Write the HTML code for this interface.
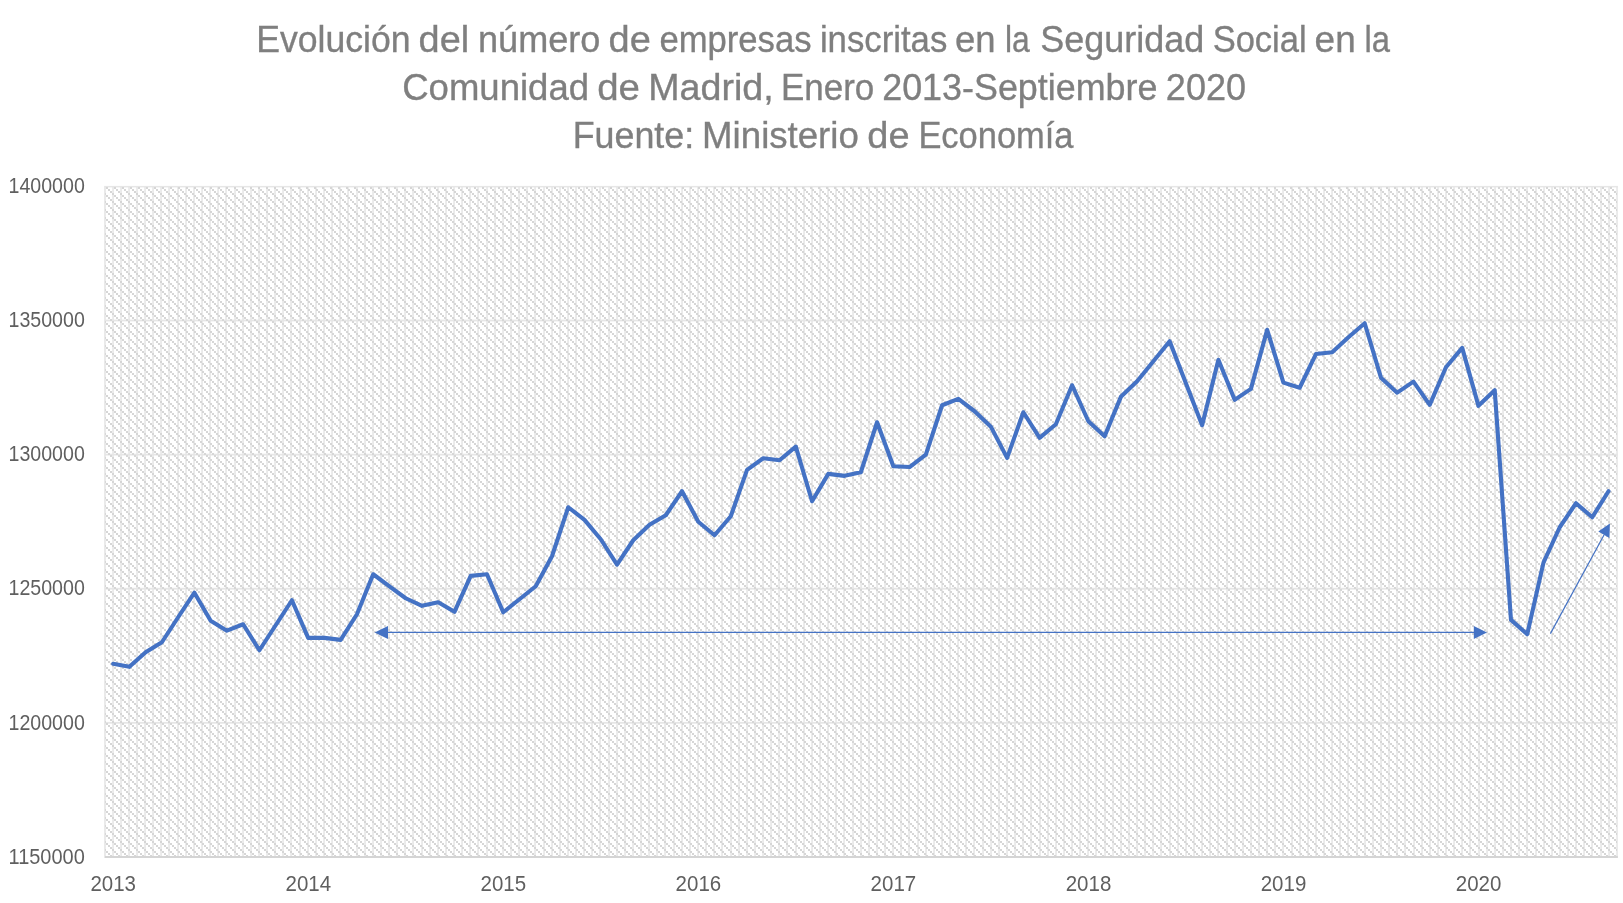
<!DOCTYPE html>
<html lang="es">
<head>
<meta charset="utf-8">
<title>Evolución del número de empresas inscritas en la Seguridad Social</title>
<style>
  html, body { margin: 0; padding: 0; background: #ffffff; }
  body { width: 1623px; height: 903px; overflow: hidden; font-family: "Liberation Sans", sans-serif; }
  svg { display: block; }
  .title text { font-family: "Liberation Sans", sans-serif; font-size: 36px; fill: #7f7f7f; stroke: #7f7f7f; stroke-width: 0.35px; }
  .axis text { font-family: "Liberation Sans", sans-serif; font-size: 22px; fill: #5f5f5f; }
</style>
</head>
<body>
<svg width="1623" height="903" viewBox="0 0 1623 903">
  <defs>
    <filter id="gray" x="-5%" y="-20%" width="110%" height="140%"><feOffset dx="0" dy="0"/></filter>
    <pattern id="dots" x="104" y="187" width="8" height="8" patternUnits="userSpaceOnUse" shape-rendering="crispEdges">
      <rect x="2" y="0" width="2" height="2" fill="#d6d6d6"/>
      <rect x="4" y="2" width="2" height="2" fill="#d6d6d6"/>
      <rect x="6" y="4" width="2" height="2" fill="#d6d6d6"/>
      <rect x="0" y="6" width="2" height="2" fill="#d6d6d6"/>
    </pattern>
  </defs>
  <rect x="0" y="0" width="1623" height="903" fill="#ffffff"/>

  <g class="title" filter="url(#gray)">
    <g><text x="256.15" y="52" textLength="154.37" lengthAdjust="spacingAndGlyphs">Evolución</text> <text x="418.56" y="52" textLength="50.6" lengthAdjust="spacingAndGlyphs">del</text> <text x="478.07" y="52" textLength="122.28" lengthAdjust="spacingAndGlyphs">número</text> <text x="608.57" y="52" textLength="42.25" lengthAdjust="spacingAndGlyphs">de</text> <text x="659.47" y="52" textLength="152.0" lengthAdjust="spacingAndGlyphs">empresas</text> <text x="819.88" y="52" textLength="127.4" lengthAdjust="spacingAndGlyphs">inscritas</text> <text x="955.01" y="52" textLength="40.56" lengthAdjust="spacingAndGlyphs">en</text> <text x="1004.92" y="52" textLength="24.78" lengthAdjust="spacingAndGlyphs">la</text> <text x="1040.31" y="52" textLength="163.9" lengthAdjust="spacingAndGlyphs">Seguridad</text> <text x="1212.63" y="52" textLength="94.02" lengthAdjust="spacingAndGlyphs">Social</text> <text x="1314.64" y="52" textLength="41.06" lengthAdjust="spacingAndGlyphs">en</text> <text x="1364.4" y="52" textLength="25.5" lengthAdjust="spacingAndGlyphs">la</text></g>
    <g><text x="402.21" y="100" textLength="186.89" lengthAdjust="spacingAndGlyphs">Comunidad</text> <text x="597.18" y="100" textLength="42.75" lengthAdjust="spacingAndGlyphs">de</text> <text x="648.24" y="100" textLength="125.39" lengthAdjust="spacingAndGlyphs">Madrid,</text> <text x="780.91" y="100" textLength="93.36" lengthAdjust="spacingAndGlyphs">Enero</text> <text x="882.23" y="100" textLength="275.19" lengthAdjust="spacingAndGlyphs">2013-Septiembre</text> <text x="1165.87" y="100" textLength="80.19" lengthAdjust="spacingAndGlyphs">2020</text></g>
    <g><text x="572.69" y="148" textLength="121.44" lengthAdjust="spacingAndGlyphs">Fuente:</text> <text x="702.11" y="148" textLength="156.73" lengthAdjust="spacingAndGlyphs">Ministerio</text> <text x="867.38" y="148" textLength="42.25" lengthAdjust="spacingAndGlyphs">de</text> <text x="918.4" y="148" textLength="155.1" lengthAdjust="spacingAndGlyphs">Economía</text></g>
  </g>

  <path d="M105.05 186v670m8 -670v670m8 -670v670m8 -670v670m8 -670v670m8 -670v670m8 -670v670m8 -670v670m8 -670v670m9 -670v670m8 -670v670m8 -670v670m8 -670v670m8 -670v670m8 -670v670m8 -670v670m9 -670v670m8 -670v670m8 -670v670m8 -670v670m8 -670v670m8 -670v670m8 -670v670m8 -670v670m9 -670v670m8 -670v670m8 -670v670m8 -670v670m8 -670v670m8 -670v670m8 -670v670m9 -670v670m8 -670v670m8 -670v670m8 -670v670m8 -670v670m8 -670v670m8 -670v670m8 -670v670m9 -670v670m8 -670v670m8 -670v670m8 -670v670m8 -670v670m8 -670v670m8 -670v670m8 -670v670m9 -670v670m8 -670v670m8 -670v670m8 -670v670m8 -670v670m8 -670v670m8 -670v670m9 -670v670m8 -670v670m8 -670v670m8 -670v670m8 -670v670m8 -670v670m8 -670v670m8 -670v670m9 -670v670m8 -670v670m8 -670v670m8 -670v670m8 -670v670m8 -670v670m8 -670v670m8 -670v670m9 -670v670m8 -670v670m8 -670v670m8 -670v670m8 -670v670m8 -670v670m8 -670v670m9 -670v670m8 -670v670m8 -670v670m8 -670v670m8 -670v670m8 -670v670m8 -670v670m8 -670v670m9 -670v670m8 -670v670m8 -670v670m8 -670v670m8 -670v670m8 -670v670m8 -670v670m9 -670v670m8 -670v670m8 -670v670m8 -670v670m8 -670v670m8 -670v670m8 -670v670m8 -670v670m9 -670v670m8 -670v670m8 -670v670m8 -670v670m8 -670v670m8 -670v670m8 -670v670m8 -670v670m9 -670v670m8 -670v670m8 -670v670m8 -670v670m8 -670v670m8 -670v670m8 -670v670m9 -670v670m8 -670v670m8 -670v670m8 -670v670m8 -670v670m8 -670v670m8 -670v670m8 -670v670m9 -670v670m8 -670v670m8 -670v670m8 -670v670m8 -670v670m8 -670v670m8 -670v670m8 -670v670m9 -670v670m8 -670v670m8 -670v670m8 -670v670m8 -670v670m8 -670v670m8 -670v670m9 -670v670m8 -670v670m8 -670v670m8 -670v670m8 -670v670m8 -670v670m8 -670v670m8 -670v670m9 -670v670m8 -670v670m8 -670v670m8 -670v670m8 -670v670m8 -670v670m8 -670v670m8 -670v670m9 -670v670m8 -670v670m8 -670v670m8 -670v670m8 -670v670m8 -670v670m8 -670v670m9 -670v670m8 -670v670m8 -670v670m8 -670v670m8 -670v670m8 -670v670m8 -670v670m8 -670v670m9 -670v670m8 -670v670m8 -670v670m8 -670v670m8 -670v670m8 -670v670m8 -670v670m9 -670v670m8 -670v670m8 -670v670m8 -670v670m8 -670v670m8 -670v670m8 -670v670m8 -670v670m9 -670v670m8 -670v670m8 -670v670" fill="none" stroke="#e9e9e9" stroke-width="1.8"/>
  <rect x="104" y="319.60" width="1513.8" height="1.8" fill="#e6e6e6"/><rect x="104" y="453.70" width="1513.8" height="1.8" fill="#e6e6e6"/><rect x="104" y="587.80" width="1513.8" height="1.8" fill="#e6e6e6"/><rect x="104" y="721.90" width="1513.8" height="1.8" fill="#e6e6e6"/>
  <rect x="104" y="185.9" width="1513.8" height="1.5" fill="#e6e6e6"/>
  <rect x="104" y="187" width="1513" height="669" fill="url(#dots)"/>
  <rect x="104" y="186" width="1.1" height="670" fill="#e9e9e9"/>
  <rect x="104.5" y="856" width="1513.4" height="2" fill="#d4d4d4"/>

  <g class="axis" filter="url(#gray)"><text x="8.5" y="193.1" textLength="76.3" lengthAdjust="spacingAndGlyphs">1400000</text><text x="8.5" y="327.2" textLength="76.3" lengthAdjust="spacingAndGlyphs">1350000</text><text x="8.5" y="461.3" textLength="76.3" lengthAdjust="spacingAndGlyphs">1300000</text><text x="8.5" y="595.4" textLength="76.3" lengthAdjust="spacingAndGlyphs">1250000</text><text x="8.5" y="729.5" textLength="76.3" lengthAdjust="spacingAndGlyphs">1200000</text><text x="8.5" y="863.6" textLength="76.3" lengthAdjust="spacingAndGlyphs">1150000</text><text x="90.4" y="891" textLength="45.6" lengthAdjust="spacingAndGlyphs">2013</text><text x="285.5" y="891" textLength="45.6" lengthAdjust="spacingAndGlyphs">2014</text><text x="480.5" y="891" textLength="45.6" lengthAdjust="spacingAndGlyphs">2015</text><text x="675.6" y="891" textLength="45.6" lengthAdjust="spacingAndGlyphs">2016</text><text x="870.6" y="891" textLength="45.6" lengthAdjust="spacingAndGlyphs">2017</text><text x="1065.7" y="891" textLength="45.6" lengthAdjust="spacingAndGlyphs">2018</text><text x="1260.7" y="891" textLength="45.6" lengthAdjust="spacingAndGlyphs">2019</text><text x="1455.8" y="891" textLength="45.6" lengthAdjust="spacingAndGlyphs">2020</text></g>

  <polyline points="113.13,663.85 129.38,666.85 145.63,652.25 161.89,642.25 178.14,617.25 194.40,592.65 210.65,620.85 226.91,630.65 243.16,624.25 259.41,650.25 275.67,625.25 291.92,600.25 308.18,637.85 324.43,637.85 340.68,639.85 356.94,614.25 373.19,574.25 389.45,586.45 405.70,598.25 421.95,605.85 438.21,602.25 454.46,611.85 470.72,575.85 486.97,574.25 503.22,612.25 519.48,599.25 535.73,586.25 551.99,556.25 568.24,507.25 584.49,519.85 600.75,539.25 617.00,564.65 633.25,540.25 649.51,524.65 665.76,515.25 682.02,491.25 698.27,521.75 714.53,535.25 730.78,516.25 747.03,469.85 763.29,458.25 779.54,460.25 795.80,446.65 812.05,501.25 828.30,473.85 844.56,475.85 860.81,472.25 877.07,422.25 893.32,466.25 909.57,467.05 925.83,454.65 942.08,405.25 958.34,398.85 974.59,411.25 990.84,426.65 1007.10,457.85 1023.35,412.25 1039.61,437.85 1055.86,424.25 1072.11,385.25 1088.37,421.25 1104.62,436.25 1120.88,396.85 1137.13,381.25 1153.38,361.25 1169.64,341.25 1185.89,383.25 1202.14,425.25 1218.40,359.85 1234.65,399.85 1250.91,388.85 1267.16,329.85 1283.42,382.65 1299.67,387.75 1315.92,354.05 1332.18,352.25 1348.43,337.25 1364.69,323.25 1380.94,377.65 1397.19,392.65 1413.45,381.65 1429.70,404.85 1445.96,367.25 1462.21,347.85 1478.46,405.85 1494.72,390.25 1510.97,619.85 1527.23,634.25 1543.48,562.65 1559.73,527.25 1575.99,503.25 1592.24,517.25 1608.50,491.25" fill="none" stroke="#4472c4" stroke-width="4.1" stroke-linejoin="round" stroke-linecap="round"/>

  <g fill="#4472c4" stroke="none">
    <line x1="386" y1="632.4" x2="1475" y2="632.4" stroke="#4472c4" stroke-width="1.2"/>
    <polygon points="374.6,632.4 388,625.9 388,638.9"/>
    <polygon points="1487,632.4 1473.8,625.9 1473.8,638.9"/>
    <line x1="1550.4" y1="633.6" x2="1604" y2="535" stroke="#4472c4" stroke-width="1.2"/>
    <polygon points="1609.9,523.6 1609.4,538.1 1598.3,531.6"/>
  </g>
</svg>
</body>
</html>
